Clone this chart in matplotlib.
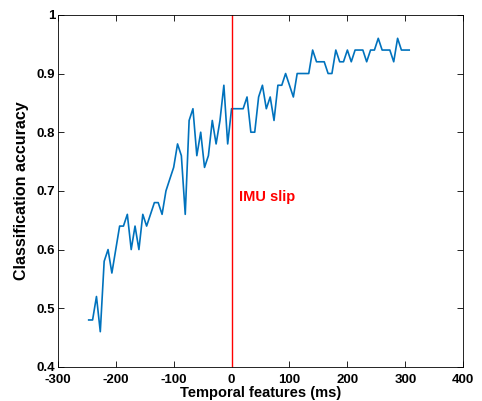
import matplotlib
matplotlib.use('Agg')
import matplotlib.pyplot as plt

plt.rcParams['font.family'] = ['Liberation Sans', 'DejaVu Sans']
plt.rcParams['font.weight'] = 'bold'
plt.rcParams['axes.unicode_minus'] = False

# 时间特征 (ms)，每 20/3 ms 一个点
times = [-246.7, -240.0, -233.3, -226.7, -220.0, -213.3, -206.7, -200.0,
         -193.3, -186.7, -180.0, -173.3, -166.7, -160.0, -153.3, -146.7,
         -140.0, -133.3, -126.7, -120.0, -113.3, -106.7, -100.0, -93.3,
         -86.7, -80.0, -73.3, -66.7, -60.0, -53.3, -46.7, -40.0,
         -33.3, -26.7, -20.0, -13.3, -6.7, 0.0, 6.7, 13.3,
         20.0, 26.7, 33.3, 40.0, 46.7, 53.3, 60.0, 66.7,
         73.3, 80.0, 86.7, 93.3, 100.0, 106.7, 113.3, 120.0,
         126.7, 133.3, 140.0, 146.7, 153.3, 160.0, 166.7, 173.3,
         180.0, 186.7, 193.3, 200.0, 206.7, 213.3, 220.0, 226.7,
         233.3, 240.0, 246.7, 253.3, 260.0, 266.7, 273.3, 280.0,
         286.7, 293.3, 300.0, 306.7]

# 分类准确率
accuracy = [0.48, 0.48, 0.52, 0.46, 0.58, 0.60, 0.56, 0.60,
            0.64, 0.64, 0.66, 0.60, 0.64, 0.60, 0.66, 0.64,
            0.66, 0.68, 0.68, 0.66, 0.70, 0.72, 0.74, 0.78,
            0.76, 0.66, 0.82, 0.84, 0.76, 0.80, 0.74, 0.76,
            0.82, 0.78, 0.82, 0.88, 0.78, 0.84, 0.84, 0.84,
            0.84, 0.86, 0.80, 0.80, 0.86, 0.88, 0.84, 0.86,
            0.82, 0.88, 0.88, 0.90, 0.88, 0.86, 0.90, 0.90,
            0.90, 0.90, 0.94, 0.92, 0.92, 0.92, 0.90, 0.90,
            0.94, 0.92, 0.92, 0.94, 0.92, 0.94, 0.94, 0.94,
            0.92, 0.94, 0.94, 0.96, 0.94, 0.94, 0.94, 0.92,
            0.96, 0.94, 0.94, 0.94]

x_ticks = [-300, -200, -100, 0, 100, 200, 300, 400]
y_ticks = [0.4, 0.5, 0.6, 0.7, 0.8, 0.9, 1.0]
y_tick_labels = ['0.4', '0.5', '0.6', '0.7', '0.8', '0.9', '1']

fig = plt.figure(figsize=(4.82, 4.01), dpi=100)
ax = fig.add_axes([0.120, 0.085, 0.841, 0.878])

ax.plot(times, accuracy, color='#0072BD', lw=1.2)
ax.axvline(0, color='red', lw=1.0)
ax.text(13, 0.69, 'IMU slip', color='red', fontsize=10.5, fontweight='bold', va='center')

ax.set_xlim(-300, 400)
ax.set_ylim(0.4, 1.0)
ax.set_xticks(x_ticks)
ax.set_yticks(y_ticks)
ax.set_yticklabels(y_tick_labels)
ax.tick_params(direction='in', top=True, right=True, length=4, width=0.6,
               labelsize=9.5)
ax.tick_params(axis='x', pad=5)
ax.tick_params(axis='y', pad=2)
for s in ax.spines.values():
    s.set_linewidth(0.6)

ax.set_xlabel('Temporal features (ms)', fontsize=10.5, fontweight='bold', labelpad=0)
ax.set_ylabel('Classification accuracy', fontsize=11.5, fontweight='bold', labelpad=5)

fig.savefig('out.png', dpi=100)
